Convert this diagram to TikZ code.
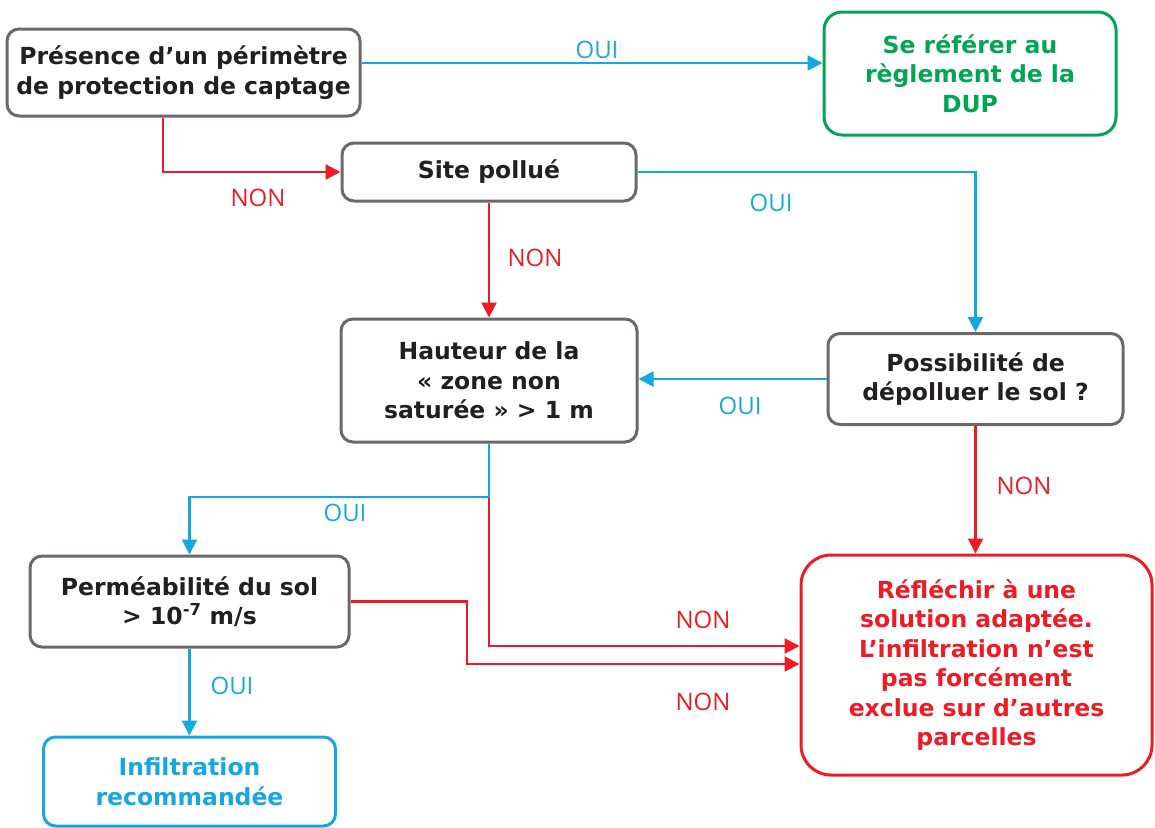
\documentclass[tikz,border=0pt]{standalone}
\usepackage{fontspec}
\setmainfont{DejaVu Sans}
\newfontfamily\lblfont{Open Sans}
\usetikzlibrary{arrows.meta}
\definecolor{cgray}{HTML}{6D6868}
\definecolor{ctext}{HTML}{231F20}
\definecolor{cblue}{HTML}{15A8E0}
\definecolor{cred}{HTML}{ED1C24}
\definecolor{cgreen}{HTML}{00A651}
\begin{document}
\begin{tikzpicture}[x=1pt,y=-1pt,
  box/.style={draw=cgray, line width=3pt, rounded corners=12pt, text=ctext,
    font=\bfseries\fontsize{23.5}{29.5}\selectfont, align=center, inner sep=0pt},
  bluebox/.style={box, draw=cblue, text=cblue},
  redbox/.style={box, draw=cred, text=cred, rounded corners=30pt},
  greenbox/.style={box, draw=cgreen, text=cgreen, rounded corners=18pt},
  conn/.style={line width=2.2pt, -{Triangle[length=15pt,width=15pt]}},
  bconn/.style={conn, draw=cblue},
  rconn/.style={conn, draw=cred},
  lbl/.style={font=\lblfont\fontsize{24}{28}\selectfont, inner sep=0pt},
  oui/.style={lbl, text=cblue},
  non/.style={lbl, text=cred}
]
\useasboundingbox (0,0) rectangle (1155,827);

\node[box, minimum width=353pt, minimum height=87pt] (b1) at (183.5,72.5)
  {Présence d’un périmètre\\de protection de captage};
\node[greenbox, minimum width=292pt, minimum height=123pt] (dup) at (970,73.5)
  {Se référer au\\règlement de la\\DUP};
\node[box, minimum width=294pt, minimum height=58pt] (site) at (489,172)
  {Site pollué};
\node[box, minimum width=296pt, minimum height=123pt] (haut) at (489,380.5)
  {Hauteur de la\\« zone non\\saturée » > 1 m};
\node[box, minimum width=295pt, minimum height=91pt] (poss) at (975.5,379)
  {Possibilité de\\dépolluer le sol ?};
\node[box, minimum width=319pt, minimum height=91pt] (perm) at (189.5,601.5)
  {Perméabilité du sol\\> 10\textsuperscript{-7} m/s};
\node[bluebox, minimum width=292pt, minimum height=89pt] (inf) at (189.5,781.5)
  {Infiltration\\recommandée};
\node[redbox, minimum width=351pt, minimum height=220pt] (refl) at (976.5,665)
  {Réfléchir à une\\solution adaptée.\\L’infiltration n’est\\pas forcément\\exclue sur d’autres\\parcelles};

\coordinate (split) at (489,497);
\coordinate (kink) at (467,664);

\draw[bconn] ([yshift=9.5pt]b1.east) -- ([yshift=9.5pt]b1.east -| dup.west);
\draw[rconn] ([xshift=-20.5pt]b1.south) |- (site.west);
\draw[bconn] (site.east) -| (poss.north);
\draw[rconn] (site.south) -- (haut.north);
\draw[bconn] (poss.west) -- (poss.west -| haut.east);
\draw[rconn] (poss.south) -- (poss.south |- refl.north);
\draw[rconn] (split) |- ([yshift=19pt]refl.west);
\draw[bconn] (haut.south) -- (split) -| (perm.north);
\draw[rconn] (perm.east) -| (kink) -- (kink -| refl.west);
\draw[bconn] (perm.south) -- (inf.north);

\node[oui] (l1) at (597,50) {OUI};
\node[non] (l2) at (258,198) {NON};
\node[oui] (l3) at (771,203) {OUI};
\node[non] (l4) at (535,258) {NON};
\node[oui] (l5) at (740,406) {OUI};
\node[non] (l6) at (1024,486) {NON};
\node[oui] (l7) at (345,513) {OUI};
\node[non] (l8) at (703,620) {NON};
\node[non] (l9) at (703,702) {NON};
\node[oui] (l10) at (232,686) {OUI};
\end{tikzpicture}
\end{document}
